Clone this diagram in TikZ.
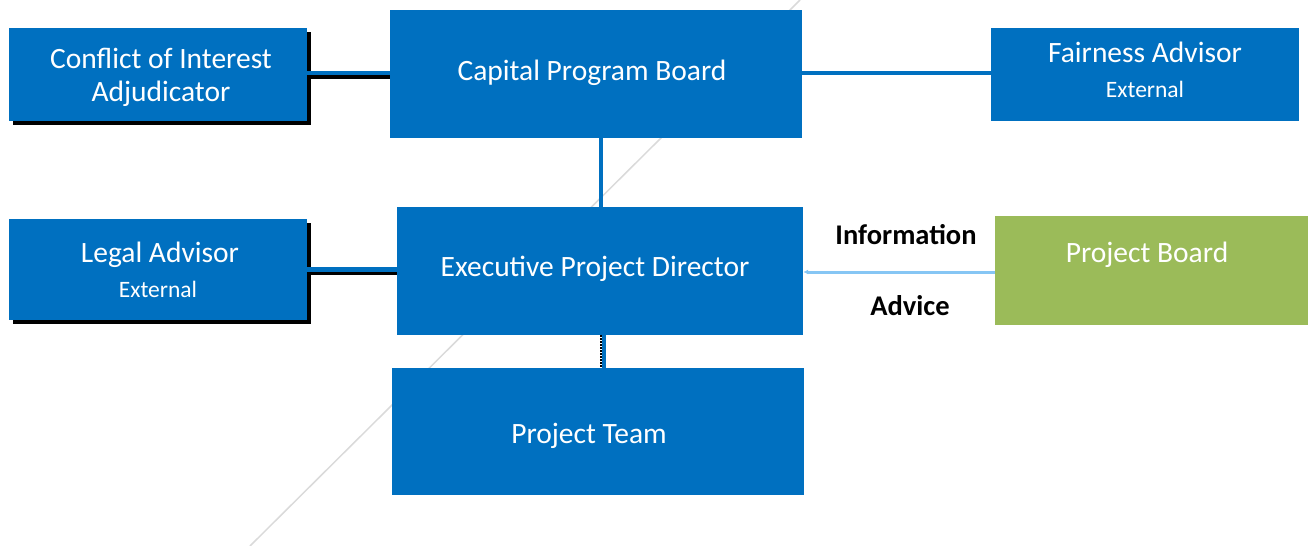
\documentclass[tikz,border=0pt]{standalone}
\usepackage{fontspec}
\setmainfont{Carlito}
\usetikzlibrary{arrows.meta,shadows}
\definecolor{orgblue}{HTML}{0070C0}
\definecolor{orggreen}{HTML}{9BBB59}
\definecolor{infoblue}{HTML}{86C6F4}
\definecolor{faintgray}{HTML}{DADADA}
% move a box's contents without changing its size
\newcommand\liftby[2]{\raisebox{#1}[\height][\depth]{#2}}
\newcommand\nudge[2]{\hspace*{#1}#2\hspace*{-#1}}
\newcommand\subline[1]{{\fontsize{23.5}{28}\selectfont #1}}
\begin{document}
\begin{tikzpicture}[x=1pt,y=-1pt,
  box/.style={rectangle, fill=orgblue, text=white, inner sep=0pt, align=center,
    font=\fontsize{29.5}{34}\selectfont},
  greenbox/.style={box, fill=orggreen},
  shadowbox/.style={box, general shadow={fill=black, shadow xshift=4pt, shadow yshift=-4pt}},
  conn/.style={draw=orgblue, line width=4.5pt},
  connshadow/.style={draw=black, line width=3.5pt},
  thinshadow/.style={draw=black, line width=1.5pt, dash pattern=on 2pt off 1pt},
  infoline/.style={draw=infoblue, line width=3pt, -{Latex[length=5pt,width=5pt]}},
  lbl/.style={text=black, inner sep=0pt, font=\bfseries\fontsize{28.5}{33}\selectfont}
]
\useasboundingbox (0,0) rectangle (1310,546);

% faint diagonal rule behind the chart
\draw[faintgray, line width=1.5pt] (250,546) -- (800,0);

% boxes
\node[shadowbox, minimum width=298pt, minimum height=93pt] (coi) at (158,74.5)
  {\liftby{-3pt}{\shortstack{\nudge{3pt}{Conflict of Interest}\\[9pt]\nudge{3pt}{Adjudicator}}}};
\node[box, minimum width=412pt, minimum height=128pt] (cpb) at (596,74)
  {\liftby{1.5pt}{\nudge{-4pt}{Capital Program Board}}};
\node[box, minimum width=308pt, minimum height=93pt] (fair) at (1145,74.5)
  {\liftby{4.75pt}{\shortstack{Fairness Advisor\\[15pt]\subline{External}}}};
\node[shadowbox, minimum width=298pt, minimum height=101pt] (legal) at (158,269.5)
  {\shortstack{\nudge{2pt}{Legal Advisor}\\[10.5pt]\subline{External}}};
\node[box, minimum width=406pt, minimum height=128pt] (epd) at (600,271)
  {\liftby{2.5pt}{\nudge{-5pt}{Executive Project Director}}};
\node[greenbox, minimum width=313pt, minimum height=109pt] (pb) at (1151.5,270.5)
  {\liftby{16pt}{\nudge{-4.5pt}{Project Board}}};
\node[box, minimum width=412pt, minimum height=127pt] (team) at (598,431.5)
  {\liftby{-4pt}{\nudge{-9pt}{Project Team}}};

% connectors (shadows first)
\draw[connshadow] ([yshift=-2.5pt]coi.east) -- ([yshift=-2.5pt]coi.east -| cpb.west);
\draw[conn] ([yshift=1.5pt]coi.east) -- ([yshift=1.5pt]coi.east -| cpb.west);
\draw[conn] ([yshift=1pt]cpb.east) -- ([yshift=1pt]cpb.east -| fair.west);
\draw[conn] ([xshift=5pt]cpb.south) -- ([xshift=5pt]cpb.south |- epd.north);
\draw[connshadow] ([yshift=-4pt]legal.east) -- ([yshift=-4pt]legal.east -| epd.west);
\draw[conn] (legal.east) -- (legal.east -| epd.west);
\draw[thinshadow] ([xshift=1pt]epd.south) -- ([xshift=1pt]epd.south |- team.north);
\draw[conn] ([xshift=4pt]epd.south) -- ([xshift=4pt]epd.south |- team.north);
\draw[infoline] ([yshift=-1.5pt]pb.west) -- ([yshift=-1.5pt]pb.west -| epd.east)
  node[lbl, pos=0.5, xshift=7pt, yshift=37pt] (info) {Information}
  node[lbl, pos=0.5, xshift=11pt, yshift=-34pt] (advice) {Advice};
\end{tikzpicture}
\end{document}
